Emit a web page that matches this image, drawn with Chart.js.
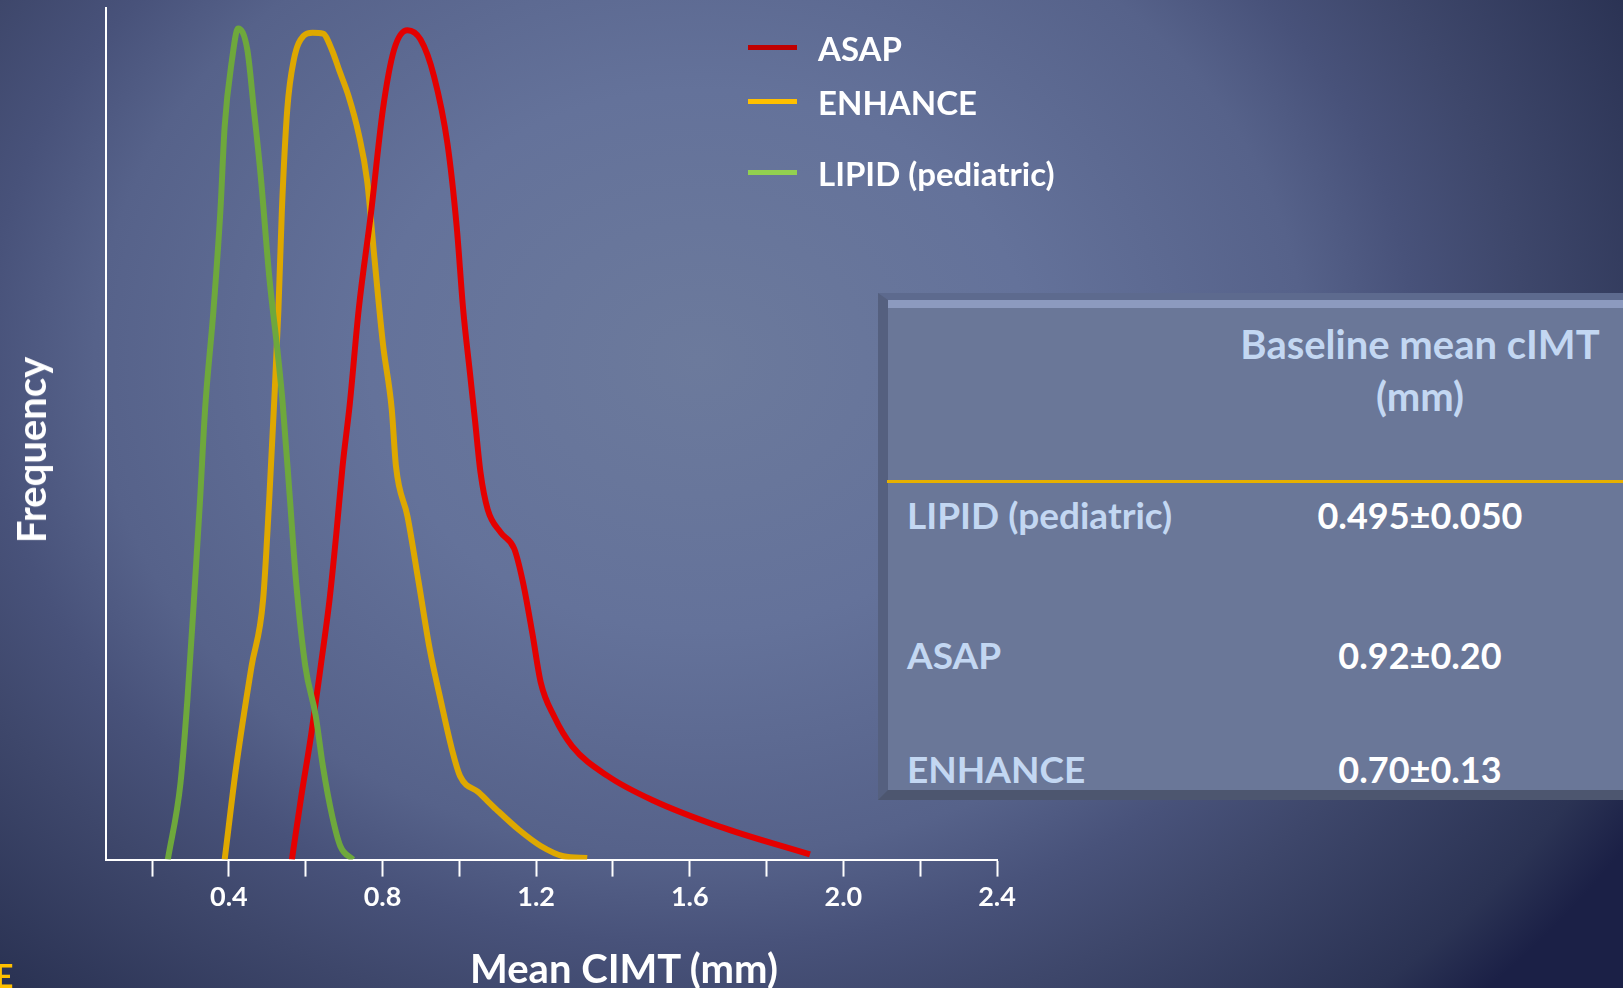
<!DOCTYPE html>
<html lang="en">
<head>
<meta charset="UTF-8">
<title>Mean CIMT distribution</title>
<script src="https://cdn.jsdelivr.net/npm/chart.js"></script>
<style>
  html, body { margin: 0; padding: 0; }
  body {
    width: 1623px; height: 988px; overflow: hidden; position: relative;
    font-family: Lato, "Open Sans", sans-serif; font-weight: bold; color: #fff;
    background: radial-gradient(ellipse 1100px 900px at 700px 360px,
      #6c7a9c 0%, #64729a 30%, #56628a 55%, #48527a 65%, #3e476b 75%, #2b3354 93%, #1b2046 100%);
  }
  #chart { position: absolute; left: 0; top: 0; }
  .txt { position: absolute; white-space: nowrap; pointer-events: none; }
  #xTitle { left: 624px; top: 968px; transform: translate(-50%, -50%); font-size: 40px; }
  #yTitle { left: 31px; top: 450px; transform: translate(-50%, -50%) rotate(-90deg); font-size: 40px; }
  .legLine { position: absolute; left: 748px; width: 49px; height: 5px; }
  .legText { position: absolute; left: 818px; font-size: 33px; line-height: 40px; }
  #box {
    position: absolute; left: 878px; top: 293px; width: 760px; height: 507px; box-sizing: border-box;
    background: #6a7798;
    border-left: 10px solid #55607f; border-top: 7px solid #5d6a8e; border-bottom: 10px solid #4d566f;
    box-shadow: inset 0 8px 0 #8c9abf;
  }
  #head { left: 1120px; width: 600px; top: 318px; text-align: center; font-size: 40px; line-height: 52px; color: #c3d7f2; white-space: normal; }
  #gold { position: absolute; left: 887px; top: 480px; width: 740px; height: 3px; background: #e6b000; }
  .rowLab { left: 907px; font-size: 37px; line-height: 40px; color: #c3d7f2; }
  .rowVal { left: 1170px; width: 500px; text-align: center; font-size: 36px; line-height: 40px; color: #fff; }
  #corner { left: -5px; top: 960px; font-size: 32px; line-height: 1; color: #ffc000; }
</style>
</head>
<body>
<canvas id="chart" width="1623" height="988"></canvas>
<div id="overlay"></div>

<script>
// series (x = mean CIMT in mm, y = relative frequency, 0-100)
const seriesNames = ['LIPID (pediatric)', 'ASAP', 'ENHANCE'];
const lineColors = ['#6ea83c', '#e40000', '#dea800'];

const lipidX = [0.241, 0.274, 0.292, 0.309, 0.325, 0.338, 0.360, 0.378, 0.389, 0.408,
  0.424, 0.448, 0.465, 0.483, 0.505, 0.529, 0.540, 0.559, 0.575, 0.599,
  0.626, 0.645, 0.669, 0.690, 0.723];
const lipidY = [0, 9.0, 18.8, 30.5, 42.3, 52.9, 64.6, 76.3, 86.1, 93.9,
  97.6, 95.1, 88.1, 80.2, 68.5, 58.7, 53.6, 42.3, 32.6, 22.7,
  16.9, 10.9, 5.1, 1.6, 0];

const asapX = [0.564, 0.587, 0.615, 0.639, 0.662, 0.680, 0.696, 0.715, 0.738, 0.771,
  0.801, 0.830, 0.865, 0.899, 0.934, 0.969, 0.993, 1.010, 1.028, 1.041,
  1.055, 1.074, 1.108, 1.143, 1.166, 1.190, 1.212, 1.247, 1.294, 1.387,
  1.502, 1.676, 1.913];
const asapY = [0, 7.0, 14.9, 22.7, 30.5, 38.4, 46.2, 53.6, 64.6, 76.3,
  88.1, 95.1, 97.4, 96.3, 92.0, 84.1, 74.4, 64.6, 57.0, 51.5,
  45.5, 41.1, 38.4, 36.5, 32.5, 26.6, 20.8, 16.8, 13.3, 9.8,
  7.0, 3.9, 0.6];

const enhanceX = [0.389, 0.419, 0.459, 0.489, 0.505, 0.517, 0.529, 0.538, 0.552, 0.569,
  0.594, 0.618, 0.645, 0.668, 0.688, 0.712, 0.738, 0.760, 0.779, 0.801,
  0.824, 0.835, 0.865, 0.894, 0.923, 0.951, 0.981, 1.002, 1.050, 1.096,
  1.155, 1.212, 1.271, 1.333];
const enhanceY = [0, 10.9, 22.7, 30.5, 42.3, 52.9, 64.6, 76.3, 88.1, 93.9,
  96.7, 97.1, 97.0, 95.1, 92.6, 89.6, 85.2, 79.7, 70.6, 60.6,
  52.9, 46.2, 40.3, 32.6, 24.7, 18.8, 12.9, 9.8, 7.9, 5.9,
  3.5, 1.6, 0.4, 0.2];

const xTicks = [0.2, 0.4, 0.6, 0.8, 1.0, 1.2, 1.4, 1.6, 1.8, 2.0, 2.2, 2.4];
const xLabelled = [0.4, 0.8, 1.2, 1.6, 2.0, 2.4];

// legend order as in the picture
const legendNames = ['ASAP', 'ENHANCE', 'LIPID (pediatric)'];
const legendColors = ['#c00000', '#ffc000', '#92d050'];

const tableHeader = ['Baseline mean cIMT', '(mm)'];
const tableRows = ['LIPID (pediatric)', 'ASAP', 'ENHANCE'];
const tableValues = ['0.495\u00b10.050', '0.92\u00b10.20', '0.70\u00b10.13'];

function pts(xs, ys) {
    var out = [];
    for (var i = 0; i < xs.length; i++) out.push({ x: xs[i], y: ys[i] });
    return out;
}

const allData = [pts(lipidX, lipidY), pts(asapX, asapY), pts(enhanceX, enhanceY)];

var datasets = [];
for (var i = 0; i < seriesNames.length; i++) {
    datasets.push({
        label: seriesNames[i],
        data: allData[i],
        borderColor: lineColors[i],
        borderWidth: 6,
        pointRadius: 0,
        fill: false,
        cubicInterpolationMode: 'monotone'
    });
}

const tickFont = { family: 'Lato', size: 27, weight: 'bold' };

new Chart(document.getElementById('chart'), {
    type: 'line',
    data: { datasets },
    options: {
        responsive: false,
        animation: false,
        layout: { padding: { left: 106, top: 8, right: 626, bottom: 71 } },
        plugins: { legend: { display: false }, tooltip: { enabled: false } },
        scales: {
            x: {
                type: 'linear', min: 0.08, max: 2.4,
                afterBuildTicks: function (s) { s.ticks = xTicks.map(v => ({ value: v })); },
                grid: { drawOnChartArea: false, drawTicks: true, tickLength: 17, tickColor: '#ffffff', tickWidth: 2 },
                border: { display: true, color: '#ffffff', width: 2 },
                ticks: {
                    color: '#ffffff', font: tickFont, padding: 4, autoSkip: false, maxRotation: 0,
                    callback: function (v) {
                        return xLabelled.some(l => Math.abs(l - v) < 1e-6) ? v.toFixed(1) : '';
                    }
                }
            },
            y: {
                min: 0, max: 100,
                ticks: { display: false },
                grid: { display: false, drawTicks: false },
                border: { display: true, color: '#ffffff', width: 2 }
            }
        }
    }
});

// texts drawn as html on top
var ov = document.getElementById('overlay');
var html = '';
html += '<div class="txt" id="yTitle">Frequency</div>';
html += '<div class="txt" id="xTitle">Mean CIMT (mm)</div>';
var legY = [47, 101, 172];
for (var i = 0; i < legendNames.length; i++) {
    html += '<div class="legLine" style="top:' + (legY[i] - 2) + 'px;background:' + legendColors[i] + '"></div>';
    html += '<div class="txt legText" style="top:' + (legY[i] - 19) + 'px">' + legendNames[i] + '</div>';
}
html += '<div id="box"></div>';
html += '<div class="txt" id="head">' + tableHeader[0] + '<br>' + tableHeader[1] + '</div>';
html += '<div id="gold"></div>';
var rowY = [516, 656, 770];
for (var i = 0; i < tableRows.length; i++) {
    html += '<div class="txt rowLab" style="top:' + (rowY[i] - 21) + 'px">' + tableRows[i] + '</div>';
    html += '<div class="txt rowVal" style="top:' + (rowY[i] - 21) + 'px">' + tableValues[i] + '</div>';
}
html += '<div class="txt" id="corner">E</div>';
ov.innerHTML = html;
</script>
</body>
</html>
